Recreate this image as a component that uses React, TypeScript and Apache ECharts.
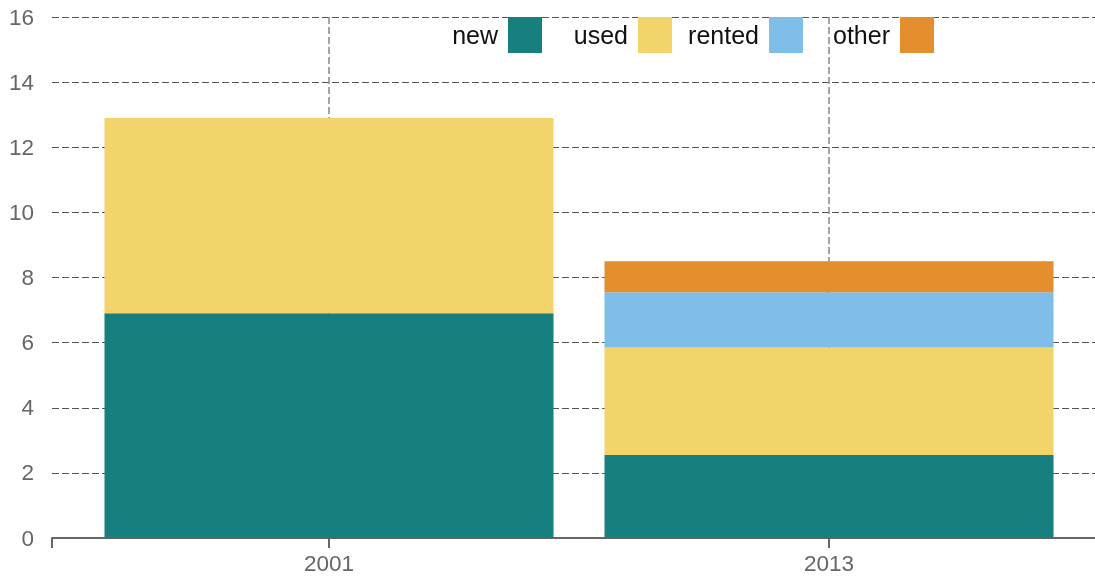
import React, { useEffect, useRef } from "react";
import * as echarts from "echarts";

const YEARS = ["2001", "2013"];
const NEW_VALUES = [6.9, 2.55];
const USED_VALUES = [6.0, 3.3];
const RENTED_VALUES = [null, 1.7];
const OTHER_VALUES = [null, 0.95];
const Y_MIN = 0;
const Y_MAX = 16;
const Y_STEP = 2;

const SERIES_NAMES = ["new", "used", "rented", "other"];
const COLORS = ["#177f7d", "#f2d46b", "#7ebee9", "#e48e2e"];
const LEGEND_RIGHT = [548, 418, 287, 156];

const FONT = "'Liberation Sans', Arial, sans-serif";

export default function App() {
  const ref = useRef<HTMLDivElement>(null);
  useEffect(() => {
    if (!ref.current) return;
    const chart = echarts.init(ref.current, undefined, { renderer: "svg" });
    const dashed = { color: "#555", width: 1, type: [7, 3] as any };
    const vDashed = { color: "#888", width: 1.5, type: [7, 3] as any };
    const seriesData = [NEW_VALUES, USED_VALUES, RENTED_VALUES, OTHER_VALUES];
    chart.setOption({
      animation: false,
      textStyle: { fontFamily: FONT },
      legend: SERIES_NAMES.map((name, i) => ({
        right: LEGEND_RIGHT[i],
        top: 12,
        itemWidth: 34,
        itemHeight: 36,
        align: "right",
        icon: "rect",
        selectedMode: false,
        textStyle: {
          fontSize: 25,
          color: "#111",
          fontFamily: FONT,
          padding: [0, 5, 0, 0],
        },
        data: [name],
      })),
      grid: [
        { left: 79, right: 16, top: 17, bottom: 41, outerBoundsMode: "none" } as any,
        { left: 52, right: -40, top: 17, bottom: 41, outerBoundsMode: "none" } as any,
      ],
      xAxis: [
        {
          type: "category",
          gridIndex: 0,
          data: YEARS,
          axisLine: { show: false },
          axisTick: {
            show: true,
            alignWithLabel: true,
            length: 10,
            lineStyle: { color: "#666", width: 2 },
          },
          axisLabel: { fontSize: 22.5, color: "#666", margin: 14, fontFamily: FONT },
          splitLine: { show: true, alignWithLabel: true, lineStyle: vDashed } as any,
        },
        {
          type: "value",
          gridIndex: 1,
          min: 0,
          max: 1,
          interval: 1,
          axisLine: { show: true, lineStyle: { color: "#666", width: 2 } },
          axisTick: {
            show: true,
            length: 10,
            customValues: [0],
            lineStyle: { color: "#666", width: 2 },
          } as any,
          axisLabel: { show: false },
          splitLine: { show: false },
        },
      ],
      yAxis: [
        {
          type: "value",
          gridIndex: 0,
          min: Y_MIN,
          max: Y_MAX,
          interval: Y_STEP,
          show: false,
          splitLine: { show: false },
        },
        {
          type: "value",
          gridIndex: 1,
          min: Y_MIN,
          max: Y_MAX,
          interval: Y_STEP,
          axisLine: { show: false },
          axisTick: { show: false },
          axisLabel: { fontSize: 22.5, color: "#666", margin: 18, fontFamily: FONT },
          splitLine: { show: true, lineStyle: dashed },
        },
      ],
      series: SERIES_NAMES.map((name, i) => ({
        name,
        type: "bar",
        stack: "total",
        xAxisIndex: 0,
        yAxisIndex: 0,
        barWidth: 449,
        data: seriesData[i],
        itemStyle: { color: COLORS[i] },
      })),
    });
    return () => chart.dispose();
  }, []);
  return (
    <div
      ref={ref}
      style={{ position: "fixed", left: 0, top: 0, width: 1095, height: 579 }}
    />
  );
}
